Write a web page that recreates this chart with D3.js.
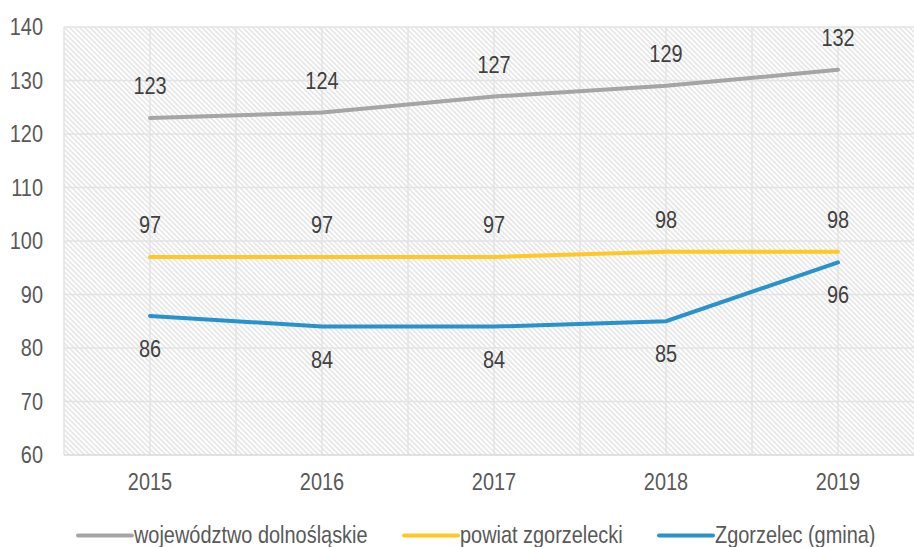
<!DOCTYPE html>
<html>
<head>
<meta charset="utf-8">
<script src="https://cdn.jsdelivr.net/npm/d3@7"></script>
<style>
  body { margin: 0; background: #fff; }
  text { font-family: "Liberation Sans", Arial, sans-serif; }
</style>
</head>
<body>
<div id="chart"></div>
<script>
// chart data
var years = ["2015", "2016", "2017", "2018", "2019"];
var wojewodztwo = [123, 124, 127, 129, 132];
var powiat = [97, 97, 97, 98, 98];
var gmina = [86, 84, 84, 85, 96];
var yTicks = [60, 70, 80, 90, 100, 110, 120, 130, 140];
var seriesNames = ["województwo dolnośląskie", "powiat zgorzelecki", "Zgorzelec (gmina)"];

var width = 914, height = 547;
var plotLeft = 64, plotRight = 924, plotTop = 27, plotBottom = 455;
var squeeze = 0.83;   // fake a narrow font by scaling text horizontally
var fontSize = "24px";

var series = [
  { name: seriesNames[0], values: wojewodztwo, color: "#a5a5a5", labelPos: "above" },
  { name: seriesNames[1], values: powiat, color: "#ffc825", labelPos: "above" },
  { name: seriesNames[2], values: gmina, color: "#2892cc", labelPos: "below" }
];

// squeeze a text horizontally around its own x
function condense(sel) {
  sel.each(function() {
    var t = d3.select(this);
    var x = +t.attr("x") || 0;
    t.attr("x", x / squeeze)
      .attr("transform", "scale(" + squeeze + ",1)");
  });
}

var svg = d3.select("#chart").append("svg")
  .attr("width", width)
  .attr("height", height);

// hatched plot background
var defs = svg.append("defs");
var pat = defs.append("pattern")
  .attr("id", "hatch")
  .attr("patternUnits", "userSpaceOnUse")
  .attr("width", 3.6)
  .attr("height", 3.6)
  .attr("patternTransform", "rotate(-45)");
pat.append("rect").attr("width", 3.6).attr("height", 3.6).attr("fill", "#fff");
pat.append("line")
  .attr("x1", 0.9).attr("x2", 0.9)
  .attr("y1", 0).attr("y2", 3.6)
  .attr("stroke", "#dedede")
  .attr("stroke-width", 1.3);

var xBand = d3.scaleBand()
  .domain(years)
  .range([plotLeft, plotRight]);
var xScale = function(d) { return xBand(d) + xBand.bandwidth() / 2; };

var yScale = d3.scaleLinear()
  .domain([60, 140])
  .range([plotBottom, plotTop]);

svg.append("rect")
  .attr("x", plotLeft)
  .attr("y", plotTop)
  .attr("width", plotRight - plotLeft)
  .attr("height", plotBottom - plotTop)
  .attr("fill", "url(#hatch)");

// horizontal grid
svg.append("g")
  .selectAll("line")
  .data(yTicks.slice(1))
  .enter().append("line")
  .attr("x1", plotLeft).attr("x2", plotRight)
  .attr("y1", function(d) { return yScale(d); })
  .attr("y2", function(d) { return yScale(d); })
  .attr("stroke", "#e3e3e3")
  .attr("stroke-width", 1.5);

// vertical grid at band edges and centers
var vx = [];
years.forEach(function(y) {
  vx.push(xBand(y));
  vx.push(xScale(y));
});
svg.append("g")
  .selectAll("line")
  .data(vx)
  .enter().append("line")
  .attr("x1", function(d) { return d; })
  .attr("x2", function(d) { return d; })
  .attr("y1", plotTop).attr("y2", plotBottom)
  .attr("stroke", "#e3e3e3")
  .attr("stroke-width", 1.5);

// bottom axis line
svg.append("line")
  .attr("x1", plotLeft).attr("x2", plotRight)
  .attr("y1", plotBottom).attr("y2", plotBottom)
  .attr("stroke", "#d9d9d9")
  .attr("stroke-width", 1.5);

// y-axis labels
var yAxis = d3.axisLeft(yScale)
  .tickValues(yTicks)
  .tickSize(0)
  .tickPadding(21);
var gy = svg.append("g")
  .attr("transform", "translate(" + plotLeft + ",0)")
  .call(yAxis);
gy.select(".domain").remove();
gy.selectAll("text")
  .style("font-size", fontSize)
  .style("font-family", "'Liberation Sans', Arial, sans-serif")
  .attr("fill", "#595959")
  .call(condense);

// x-axis labels
var xAxis = d3.axisBottom(xBand)
  .tickSize(0)
  .tickPadding(18);
var gx = svg.append("g")
  .attr("transform", "translate(0," + plotBottom + ")")
  .call(xAxis);
gx.select(".domain").remove();
gx.selectAll("text")
  .style("font-size", fontSize)
  .style("font-family", "'Liberation Sans', Arial, sans-serif")
  .attr("fill", "#595959")
  .call(condense);

// lines
var line = d3.line()
  .x(function(d, i) { return xScale(years[i]); })
  .y(function(d) { return yScale(d); });

series.forEach(function(s) {
  svg.append("path")
    .datum(s.values)
    .attr("d", line)
    .attr("fill", "none")
    .attr("stroke", s.color)
    .attr("stroke-width", 4)
    .attr("stroke-linecap", "round");
});

// data labels
series.forEach(function(s) {
  svg.append("g")
    .selectAll("text")
    .data(s.values)
    .enter().append("text")
    .attr("x", function(d, i) { return xScale(years[i]); })
    .attr("y", function(d) { return yScale(d) + (s.labelPos === "above" ? -24 : 41); })
    .attr("text-anchor", "middle")
    .style("font-size", fontSize)
    .attr("fill", "#404040")
    .text(function(d) { return d; })
    .call(condense);
});

// legend
var legendX = [78, 404, 659];
var legend = svg.append("g");
series.forEach(function(s, i) {
  legend.append("line")
    .attr("x1", legendX[i]).attr("x2", legendX[i] + 54)
    .attr("y1", 535.5).attr("y2", 535.5)
    .attr("stroke", s.color)
    .attr("stroke-width", 4)
    .attr("stroke-linecap", "round");
  legend.append("text")
    .attr("x", legendX[i] + 56)
    .attr("y", 543)
    .style("font-size", fontSize)
    .attr("fill", "#595959")
    .text(s.name)
    .call(condense);
});
</script>
</body>
</html>
